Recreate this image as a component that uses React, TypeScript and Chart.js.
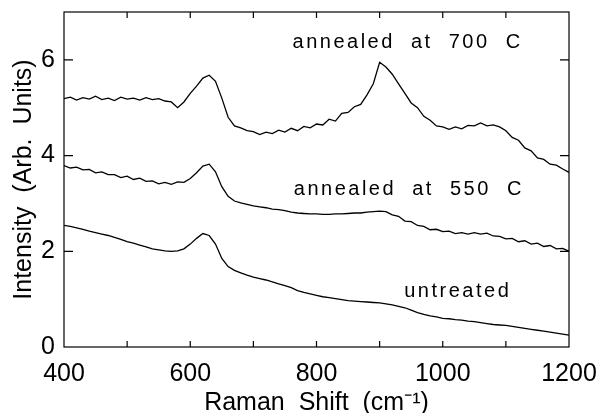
import React, { useEffect, useRef } from "react";
import { Chart, registerables } from "chart.js";

Chart.register(...registerables);

const wavenumbers = [
  400, 410, 420, 430, 440, 450, 460, 470, 480, 490,
  500, 510, 520, 530, 540, 550, 560, 570, 580, 590,
  600, 610, 620, 630, 640, 650, 660, 670, 680, 690,
  700, 710, 720, 730, 740, 750, 760, 770, 780, 790,
  800, 810, 820, 830, 840, 850, 860, 870, 880, 890,
  900, 910, 920, 930, 940, 950, 960, 970, 980, 990,
  1000, 1010, 1020, 1030, 1040, 1050, 1060, 1070, 1080, 1090,
  1100, 1110, 1120, 1130, 1140, 1150, 1160, 1170, 1180, 1190,
  1200,
];

const annealed700 = [
  5.19, 5.22, 5.16, 5.21, 5.18, 5.24, 5.17, 5.2, 5.15, 5.22,
  5.18, 5.2, 5.16, 5.21, 5.17, 5.19, 5.14, 5.12, 5.0, 5.12,
  5.3, 5.45, 5.62, 5.68, 5.55, 5.2, 4.8, 4.62, 4.58, 4.52,
  4.5, 4.44, 4.49, 4.46, 4.53, 4.49, 4.57, 4.52, 4.61, 4.58,
  4.66, 4.64, 4.76, 4.72, 4.88, 4.9, 5.02, 5.07, 5.27, 5.5,
  5.95, 5.85, 5.7, 5.5, 5.3, 5.1, 5.0, 4.82, 4.74, 4.62,
  4.6, 4.55, 4.6, 4.56, 4.63, 4.62, 4.68, 4.62, 4.64, 4.6,
  4.52, 4.38, 4.32, 4.16, 4.1, 3.95, 3.92, 3.82, 3.8, 3.72,
  3.65,
];

const annealed550 = [
  3.79, 3.74, 3.76, 3.7, 3.71, 3.64, 3.66, 3.6, 3.6, 3.54,
  3.57, 3.5, 3.53, 3.46, 3.47, 3.41, 3.44, 3.4, 3.45, 3.44,
  3.52, 3.64, 3.78, 3.82, 3.66, 3.35, 3.15, 3.05, 3.01, 2.98,
  2.95, 2.93, 2.91, 2.88, 2.87, 2.85, 2.82, 2.8, 2.79, 2.78,
  2.78, 2.77, 2.77, 2.78, 2.78, 2.79, 2.8, 2.8, 2.82, 2.83,
  2.84, 2.83, 2.76, 2.73, 2.63, 2.62, 2.54, 2.52, 2.45, 2.46,
  2.41, 2.42, 2.37, 2.39, 2.36, 2.39, 2.36, 2.38, 2.32, 2.31,
  2.26, 2.27, 2.2, 2.22, 2.15, 2.17, 2.1, 2.12, 2.05, 2.06,
  2.0,
];

const untreated = [
  2.54, 2.52, 2.49, 2.46, 2.42, 2.39, 2.36, 2.33, 2.29, 2.25,
  2.2, 2.17, 2.13, 2.09, 2.05, 2.03, 2.01, 2.0, 2.01, 2.05,
  2.15, 2.27, 2.37, 2.33, 2.15, 1.85, 1.68, 1.6, 1.55, 1.5,
  1.46, 1.43, 1.4, 1.36, 1.32, 1.28, 1.24, 1.18, 1.14, 1.11,
  1.08, 1.05, 1.03, 1.01, 0.99, 0.97, 0.96, 0.95, 0.94, 0.93,
  0.92, 0.9, 0.88, 0.85, 0.82, 0.77, 0.72, 0.68, 0.65, 0.63,
  0.6, 0.59, 0.57, 0.56, 0.54, 0.53, 0.51, 0.49, 0.47, 0.46,
  0.45, 0.43, 0.41, 0.39, 0.37, 0.35, 0.33, 0.31, 0.29, 0.27,
  0.25,
];

const xTickLabels = [400, 600, 800, 1000, 1200];
const yTickLabels = [0, 2, 4, 6];
const seriesNames = ["annealed  at  700  C", "annealed  at  550  C", "untreated"];
const seriesLabelX = [762, 764, 939];
const seriesLabelY = [6.25, 3.17, 1.04];

const FONT = "'Liberation Sans', Arial, sans-serif";

const framePlugin = {
  id: "frameTicks",
  afterDraw(chart: any) {
    const { ctx, chartArea: a, scales } = chart;
    const x = scales.x;
    const y = scales.y;
    ctx.save();
    ctx.strokeStyle = "#000";
    ctx.lineWidth = 1.2;
    ctx.strokeRect(a.left, a.top, a.right - a.left, a.bottom - a.top);
    ctx.beginPath();
    x.ticks.forEach((t: any) => {
      if (t.value <= x.min || t.value >= x.max) return;
      const px = x.getPixelForValue(t.value);
      ctx.moveTo(px, a.bottom);
      ctx.lineTo(px, a.bottom - 6);
      ctx.moveTo(px, a.top);
      ctx.lineTo(px, a.top + 6);
    });
    y.ticks.forEach((t: any) => {
      if (t.value <= y.min || t.value >= y.max) return;
      const py = y.getPixelForValue(t.value);
      ctx.moveTo(a.left, py);
      ctx.lineTo(a.left + 9, py);
      ctx.moveTo(a.right, py);
      ctx.lineTo(a.right - 9, py);
    });
    ctx.stroke();

    ctx.fillStyle = "#000";
    ctx.font = `20px ${FONT}`;
    ctx.textAlign = "left";
    ctx.textBaseline = "alphabetic";
    (ctx as any).letterSpacing = "2.5px";
    seriesNames.forEach((name, i) => {
      ctx.fillText(
        name,
        x.getPixelForValue(seriesLabelX[i]),
        y.getPixelForValue(seriesLabelY[i])
      );
    });
    ctx.restore();
  },
};

const zeroPad = (s: any) => {
  s.paddingTop = 0;
  s.paddingBottom = 0;
  s.paddingLeft = 0;
  s.paddingRight = 0;
};

export default function App() {
  const canvasRef = useRef<HTMLCanvasElement | null>(null);

  useEffect(() => {
    if (!canvasRef.current) return;
    const mk = (vals: number[]) => wavenumbers.map((w, i) => ({ x: w, y: vals[i] }));
    const ds = (vals: number[], label: string) => ({
      label,
      data: mk(vals),
      borderColor: "#000",
      borderWidth: 1.3,
      pointRadius: 0,
      fill: false,
      tension: 0,
    });
    const chart = new Chart(canvasRef.current, {
      type: "line",
      data: {
        datasets: [
          ds(annealed700, seriesNames[0]),
          ds(annealed550, seriesNames[1]),
          ds(untreated, seriesNames[2]),
        ],
      },
      options: {
        animation: false,
        responsive: true,
        maintainAspectRatio: false,
        layout: { padding: { top: 12, right: 33, left: 0, bottom: 0 } },
        plugins: { legend: { display: false }, tooltip: { enabled: false } },
        scales: {
          x: {
            type: "linear",
            min: 400,
            max: 1200,
            grid: { display: false, drawTicks: false },
            border: { display: false },
            afterFit: (s: any) => {
              s.height = 66;
              zeroPad(s);
            },
            ticks: {
              stepSize: 100,
              autoSkip: false,
              maxRotation: 0,
              padding: 12,
              color: "#000",
              font: { family: FONT, size: 25 },
              callback: (v: any) => (xTickLabels.includes(Number(v)) ? String(v) : ""),
            },
            title: {
              display: true,
              text: "Raman  Shift  (cm\u207B\u00B9)",
              color: "#000",
              font: { family: FONT, size: 25, lineHeight: 0.8 },
              padding: { top: 0, bottom: 0 },
            },
          },
          y: {
            type: "linear",
            min: 0,
            max: 7,
            grid: { display: false, drawTicks: false },
            border: { display: false },
            afterFit: (s: any) => {
              s.width = 64;
              zeroPad(s);
            },
            ticks: {
              stepSize: 2,
              includeBounds: false,
              padding: 9,
              color: "#000",
              font: { family: FONT, size: 25 },
              callback: (v: any) => (yTickLabels.includes(Number(v)) ? String(v) : ""),
            },
            title: {
              display: true,
              text: "Intensity  (Arb.  Units)",
              color: "#000",
              font: { family: FONT, size: 25, lineHeight: 1.2 },
              padding: { top: 9, bottom: 0 },
            },
          },
        },
      },
      plugins: [framePlugin],
    } as any);
    return () => chart.destroy();
  }, []);

  return (
    <div style={{ position: "absolute", left: 0, top: 0, width: 602, height: 413, background: "#fff" }}>
      <canvas ref={canvasRef} />
    </div>
  );
}
